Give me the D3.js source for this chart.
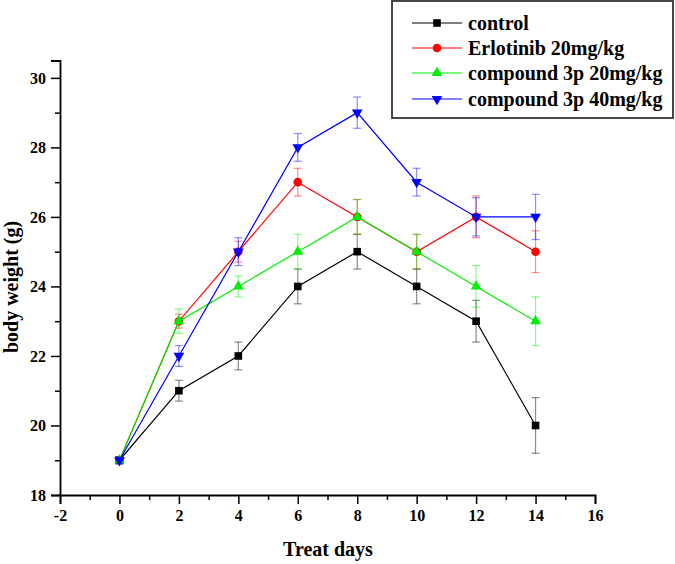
<!DOCTYPE html>
<html>
<head>
<meta charset="utf-8">
<script src="https://cdn.jsdelivr.net/npm/d3@7"></script>
<style>
  html, body { margin: 0; padding: 0; background: #fff; }
  svg { display: block; }
  text { font-family: "Liberation Serif", "Times New Roman", serif; font-weight: bold; }
</style>
</head>
<body>
<svg id="chart" width="675" height="564"></svg>
<script>
const days = [0, 2, 4, 6, 8, 10, 12, 14];
const seriesNames = ["control", "Erlotinib 20mg/kg", "compound 3p 20mg/kg", "compound 3p 40mg/kg"];
const controlVals   = [19, 21, 22, 24, 25, 24, 23, 20];
const controlErr    = [0.1, 0.3, 0.4, 0.5, 0.5, 0.5, 0.6, 0.8];
const erlotinibVals = [19, 23, 25, 27, 26, 25, 26, 25];
const erlotinibErr  = [0.1, 0.2, 0.3, 0.4, 0.5, 0.5, 0.6, 0.6];
const c3p20Vals     = [19, 23, 24, 25, 26, 25, 24, 23];
const c3p20Err      = [0.1, 0.35, 0.3, 0.5, 0.5, 0.5, 0.6, 0.7];
const c3p40Vals     = [19, 22, 25, 28, 29, 27, 26, 26];
const c3p40Err      = [0.1, 0.3, 0.4, 0.4, 0.45, 0.4, 0.55, 0.65];
const xTicks = [-2, 0, 2, 4, 6, 8, 10, 12, 14, 16];
const yTicks = [18, 20, 22, 24, 26, 28, 30];
const xLabel = "Treat days";
const yLabel = "body weight (g)";

const colors = ["#000000", "#ff0000", "#00ee00", "#0000ff"];
const shapes = ["square", "circle", "triangle", "triangleDown"];
const allVals = [controlVals, erlotinibVals, c3p20Vals, c3p40Vals];
const allErr = [controlErr, erlotinibErr, c3p20Err, c3p40Err];

const svg = d3.select("#chart");
const x = d3.scaleLinear().domain([-2, 16]).range([60, 595]);
const y = d3.scaleLinear().domain([18, 30.5]).range([495, 60.5]);
const fmt = d => String(d);

// Axes
const xAxis = d3.axisBottom(x).tickValues(xTicks).tickFormat(fmt).tickSize(9).tickPadding(6);
svg.append("g").attr("transform", "translate(0,495)").call(xAxis);
const xMinor = d3.axisBottom(x).tickValues(d3.range(-1, 16, 2)).tickFormat("").tickSize(5);
svg.append("g").attr("transform", "translate(0,495)").call(xMinor).call(g => g.select(".domain").remove());

const yAxis = d3.axisLeft(y).tickValues(yTicks).tickFormat(fmt).tickSize(9).tickPadding(5);
svg.append("g").attr("transform", "translate(60,0)").call(yAxis);
const yMinor = d3.axisLeft(y).tickValues(d3.range(19, 31, 2)).tickFormat("").tickSize(5);
svg.append("g").attr("transform", "translate(60,0)").call(yMinor).call(g => g.select(".domain").remove());

svg.selectAll(".domain").attr("stroke", "#000").attr("stroke-width", 1.8);
svg.selectAll(".tick line").attr("stroke", "#000").attr("stroke-width", 1.5);
svg.selectAll(".tick text").attr("font-size", 16).attr("font-family", "Liberation Serif, serif").attr("font-weight", "bold").attr("fill", "#000");

// Axis titles
svg.append("text").attr("x", 328).attr("y", 556).attr("text-anchor", "middle")
  .attr("font-size", 20).text(xLabel);
svg.append("text").attr("transform", "translate(17.5,287) rotate(-90)").attr("text-anchor", "middle")
  .attr("font-size", 20).text(yLabel);

function drawMarker(g, shape, cx, cy, color) {
  if (shape === "square") {
    g.append("rect").attr("x", cx - 3.8).attr("y", cy - 3.8).attr("width", 7.6).attr("height", 7.6).attr("fill", color);
  } else if (shape === "circle") {
    g.append("circle").attr("cx", cx).attr("cy", cy).attr("r", 4.3).attr("fill", color);
  } else {
    const sym = d3.symbol().type(d3.symbolTriangle).size(50);
    const rot = shape === "triangleDown" ? 180 : 0;
    g.append("path").attr("d", sym()).attr("transform", `translate(${cx},${cy}) rotate(${rot})`).attr("fill", color);
  }
}

// Series
allVals.forEach((vals, i) => {
  const g = svg.append("g");
  const errs = allErr[i];
  const col = colors[i];
  days.forEach((d, j) => {
    const cx = x(d), y1 = y(vals[j] + errs[j]), y2 = y(vals[j] - errs[j]);
    g.append("line").attr("x1", cx).attr("x2", cx).attr("y1", y1).attr("y2", y2)
      .attr("stroke", col).attr("stroke-opacity", 0.45).attr("stroke-width", 1.2);
    [y1, y2].forEach(yy => g.append("line").attr("x1", cx - 4).attr("x2", cx + 4).attr("y1", yy).attr("y2", yy)
      .attr("stroke", col).attr("stroke-opacity", 0.45).attr("stroke-width", 1.2));
  });
  const line = d3.line().x((d, j) => x(days[j])).y(d => y(d));
  g.append("path").datum(vals).attr("d", line).attr("fill", "none").attr("stroke", col).attr("stroke-width", 1.2);
  days.forEach((d, j) => drawMarker(g, shapes[i], x(d), y(vals[j]), col));
});

// Legend
const lg = svg.append("g");
lg.append("rect").attr("x", 392).attr("y", 1).attr("width", 281).attr("height", 117)
  .attr("fill", "#fff").attr("stroke", "#333").attr("stroke-width", 1.8);
const rowY = [23, 48, 73, 99];
seriesNames.forEach((name, i) => {
  lg.append("line").attr("x1", 412).attr("x2", 462).attr("y1", rowY[i]).attr("y2", rowY[i])
    .attr("stroke", colors[i]).attr("stroke-width", 1.2);
  drawMarker(lg, shapes[i], 437, rowY[i], colors[i]);
  lg.append("text").attr("x", 468).attr("y", rowY[i] + 6.5).attr("font-size", 20).text(name);
});
</script>
</body>
</html>
